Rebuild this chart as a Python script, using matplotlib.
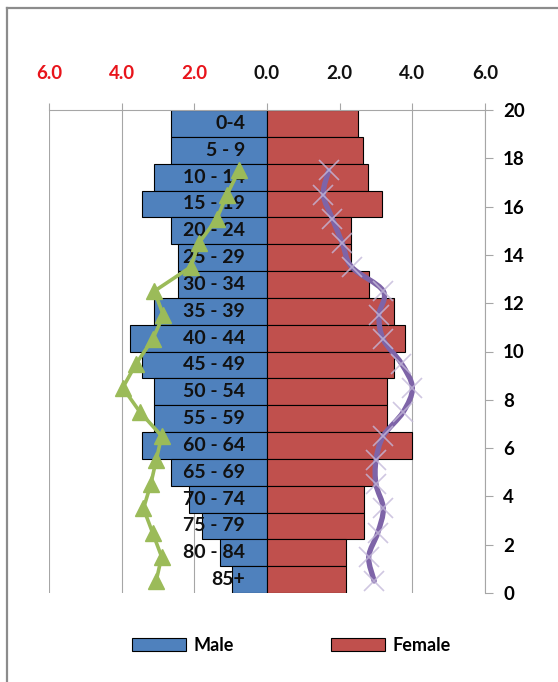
import matplotlib
matplotlib.use("Agg")
import matplotlib.pyplot as plt
from matplotlib.lines import Line2D
from matplotlib.patches import Patch, PathPatch
from matplotlib.path import Path

plt.rcParams['font.family'] = ['Lato', 'DejaVu Sans']

# age groups, top of the pyramid first
ages = ['0-4', '5 - 9', '10 - 14', '15 - 19', '20 - 24', '25 - 29', '30 - 34',
        '35 - 39', '40 - 44', '45 - 49', '50 - 54', '55 - 59', '60 - 64',
        '65 - 69', '70 - 74', '75 - 79', '80 - 84', '85+']
male = [2.64, 2.64, 3.11, 3.45, 2.63, 2.45, 2.45, 3.12, 3.77, 3.45, 3.12,
        3.12, 3.45, 2.63, 2.14, 1.79, 1.29, 0.97]
female = [2.50, 2.65, 2.79, 3.16, 2.31, 2.31, 2.80, 3.49, 3.80, 3.49, 3.30,
          3.30, 3.99, 2.95, 2.66, 2.66, 2.18, 2.18]

# comparison series on the secondary (0-20) axis, bottom point first
line_y = [0.5, 1.5, 2.5, 3.5, 4.5, 5.5, 6.5, 7.5, 8.5, 9.5, 10.5, 11.5,
          12.5, 13.5, 14.5, 15.5, 16.5, 17.5]
male_ref = [3.05, 2.90, 3.15, 3.40, 3.20, 3.05, 2.90, 3.50, 3.97, 3.60,
            3.15, 2.85, 3.10, 2.10, 1.87, 1.38, 1.10, 0.77]
female_ref = [2.95, 2.80, 3.05, 3.20, 3.00, 3.00, 3.20, 3.75, 4.00, 3.70,
              3.20, 3.08, 3.20, 2.33, 2.07, 1.80, 1.55, 1.70]

xticks = [-6, -4, -2, 0, 2, 4, 6]
yticks2 = [0, 2, 4, 6, 8, 10, 12, 14, 16, 18, 20]

blue = '#4F81BD'
red = '#C0504D'
green = '#9BBB59'
purple = '#7E64A8'
grid_c = '#A6A6A6'


def smooth_path(xs, ys, t=0.25):
    # cubic bezier through the points (Excel-style smoothed line)
    verts = [(xs[0], ys[0])]
    codes = [Path.MOVETO]
    n = len(xs)
    for i in range(n - 1):
        x0, y0 = xs[max(i - 1, 0)], ys[max(i - 1, 0)]
        x1, y1 = xs[i], ys[i]
        x2, y2 = xs[i + 1], ys[i + 1]
        x3, y3 = xs[min(i + 2, n - 1)], ys[min(i + 2, n - 1)]
        verts += [(x1 + (x2 - x0) * t / 1.5, y1 + (y2 - y0) * t / 1.5),
                  (x2 - (x3 - x1) * t / 1.5, y2 - (y3 - y1) * t / 1.5),
                  (x2, y2)]
        codes += [Path.CURVE4] * 3
    return Path(verts, codes)


fig = plt.figure(figsize=(5.58, 6.82), dpi=100)
ax = fig.add_axes([49/558, 89/682, 436/558, 483/682])

pos = list(range(len(ages)))
ax.barh(pos, [-m for m in male], height=1.0, color=blue, edgecolor='black',
        linewidth=0.8, zorder=2)
ax.barh(pos, female, height=1.0, color=red, edgecolor='black',
        linewidth=0.8, zorder=2)
ax.set_ylim(len(ages) - 0.5, -0.5)
ax.set_xlim(-6, 6)

for i, lab in enumerate(ages):
    ax.text(-0.6, i, lab, ha='right', va='center', fontsize=14,
            fontweight='bold', color='#111111', zorder=3)

ax.set_xticks(xticks)
ax.set_xticklabels(['%.1f' % abs(v) for v in xticks])
ax.xaxis.tick_top()
ax.tick_params(axis='x', direction='out', length=5, color=grid_c, pad=15,
               labelsize=13.5)
for t, v in zip(ax.get_xticklabels(), xticks):
    t.set_fontweight('bold')
    t.set_color('#E8141B' if v < 0 else '#111111')
ax.set_yticks([])
ax.grid(axis='x', color=grid_c, linewidth=0.8, zorder=0)
for s in ['left', 'right', 'bottom']:
    ax.spines[s].set_visible(False)
ax.spines['top'].set_color(grid_c)
ax.spines['top'].set_linewidth(0.8)

# secondary axis for the two comparison lines
ax2 = ax.twinx()
ax2.set_ylim(0, 20)
ax2.set_yticks(yticks2)
ax2.tick_params(axis='y', direction='out', length=6, color=grid_c, pad=7,
                labelsize=13.5)
for t in ax2.get_yticklabels():
    t.set_fontweight('bold')
for s in ['left', 'top', 'bottom']:
    ax2.spines[s].set_visible(False)
ax2.spines['right'].set_color(grid_c)
ax2.spines['right'].set_linewidth(0.8)

ax2.plot([-v for v in male_ref], line_y, color=green, linewidth=2.6,
         marker='^', markersize=11.5, markerfacecolor=green,
         markeredgecolor=green, zorder=4)
ax2.add_patch(PathPatch(smooth_path(female_ref, line_y), facecolor='none',
                        edgecolor=purple, linewidth=3.8, zorder=4,
                        capstyle='round', joinstyle='round'))
ax2.plot(female_ref, line_y, linestyle='none', marker='x', markersize=14,
         markeredgewidth=1.2, color='#C4B9DA', alpha=0.8, zorder=5)

handles = [Patch(facecolor=blue, edgecolor='black', linewidth=0.8),
           Patch(facecolor=red, edgecolor='black', linewidth=0.8)]
fig.legend(handles, ['Male', 'Female'], loc='center', ncol=2,
           bbox_to_anchor=(0.522, 0.054), frameon=False,
           handlelength=3.0, handleheight=0.7, handletextpad=0.4,
           columnspacing=5.4, prop={'weight': 'bold', 'size': 13})

# chart border
fig.add_artist(Line2D([7/558, 7/558], [0, 1 - 7.5/682], color='#8C8C8C',
                      linewidth=1.6, transform=fig.transFigure))
fig.add_artist(Line2D([7/558, 1], [1 - 7.5/682, 1 - 7.5/682], color='#8C8C8C',
                      linewidth=1.6, transform=fig.transFigure))

fig.savefig('out.png', dpi=100)
